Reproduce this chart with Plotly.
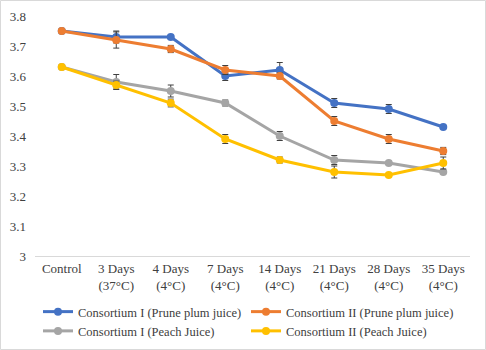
import plotly.graph_objects as go

categories = ["Control", "3 Days<br>(37°C)", "4 Days<br>(4°C)", "7 Days<br>(4°C)", "14 Days<br>(4°C)",
              "21 Days<br>(4°C)", "28 Days<br>(4°C)", "35 Days<br>(4°C)"]

c1_prune = [3.75, 3.73, 3.73, 3.60, 3.62, 3.51, 3.49, 3.43]
c1_prune_err = [0.005, 0.02, 0.005, 0.015, 0.025, 0.015, 0.015, 0.005]
c2_prune = [3.75, 3.72, 3.69, 3.62, 3.60, 3.45, 3.39, 3.35]
c2_prune_err = [0.005, 0.027, 0.012, 0.015, 0.01, 0.015, 0.015, 0.012]
c1_peach = [3.63, 3.58, 3.55, 3.51, 3.40, 3.32, 3.31, 3.28]
c1_peach_err = [0.005, 0.025, 0.02, 0.01, 0.015, 0.015, 0.005, 0.005]
c2_peach = [3.63, 3.57, 3.51, 3.39, 3.32, 3.28, 3.27, 3.31]
c2_peach_err = [0.005, 0.013, 0.013, 0.015, 0.01, 0.02, 0.005, 0.02]

series = [
    ("Consortium I (Prune plum juice)", c1_prune, c1_prune_err, "#4472C4"),
    ("Consortium II (Prune plum juice)", c2_prune, c2_prune_err, "#ED7D31"),
    ("Consortium I (Peach Juice)", c1_peach, c1_peach_err, "#A5A5A5"),
    ("Consortium II (Peach Juice)", c2_peach, c2_peach_err, "#FFC000"),
]

FONT = "Liberation Serif"

fig = go.Figure()
for name, vals, errs, col in series:
    fig.add_trace(go.Scatter(
        x=categories, y=vals, name=name, mode="lines+markers",
        line=dict(color=col, width=3),
        marker=dict(color=col, size=8, symbol="circle"),
        error_y=dict(type="data", array=errs, visible=True, color="#404040", thickness=1, width=3),
    ))

W, H = 486, 350
ml, mr, mt, mb = 35, 16, 16, 94
pw, ph = W - ml - mr, H - mt - mb

fig.update_layout(
    width=W, height=H,
    margin=dict(l=ml, r=mr, t=mt, b=mb, autoexpand=False),
    paper_bgcolor="white", plot_bgcolor="white",
    font=dict(family=FONT, size=13, color="#404040"),
    showlegend=True,
    legend=dict(orientation="h", x=(38 - ml) / pw, xanchor="left", y=-(297 - (mt + ph)) / ph, yanchor="top",
                entrywidth=163, entrywidthmode="pixels", font=dict(family=FONT, size=12.5, color="#404040"),
                traceorder="normal", tracegroupgap=0, bgcolor="rgba(0,0,0,0)"),
    xaxis=dict(showgrid=False, showline=True, linecolor="#D9D9D9", linewidth=1, ticks="",
               tickfont=dict(family=FONT, size=13, color="#404040"), fixedrange=True),
    yaxis=dict(range=[3, 3.8], showgrid=False, zeroline=False, showline=False,
               ticks="", tickfont=dict(family=FONT, size=13, color="#404040"),
               ticklabelstandoff=8,
               tickvals=[3, 3.1, 3.2, 3.3, 3.4, 3.5, 3.6, 3.7, 3.8],
               ticktext=["3", "3.1", "3.2", "3.3", "3.4", "3.5", "3.6", "3.7", "3.8"]),
    shapes=[dict(type="rect", xref="paper", yref="paper",
                 x0=(0.5 - ml) / pw, x1=(W - 0.5 - ml) / pw,
                 y0=-(H - 0.5 - mt - ph) / ph, y1=1 + (mt - 0.5) / ph,
                 line=dict(color="#D9D9D9", width=1), layer="below")],
)

fig.write_html("out.html")
